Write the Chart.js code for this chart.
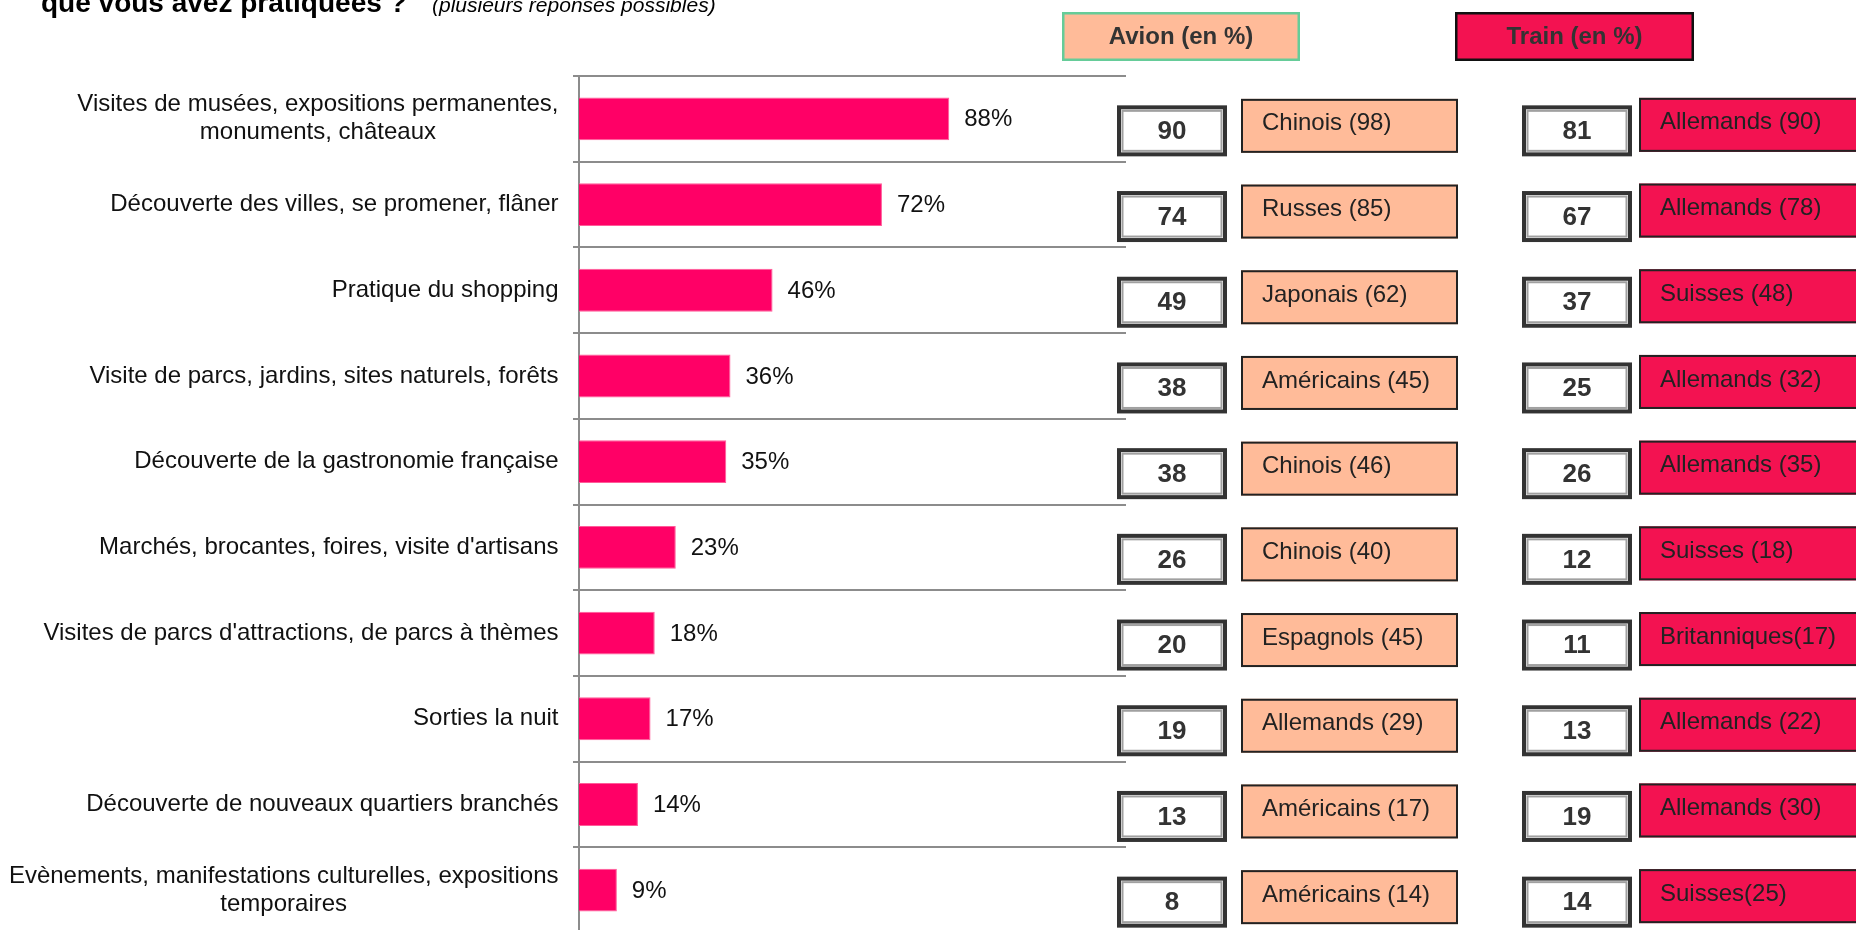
<!DOCTYPE html>
<html>
<head>
<meta charset="utf-8">
<script src="https://cdn.jsdelivr.net/npm/chart.js@4"></script>
<style>
html, body { margin: 0; padding: 0; background: #fff; overflow: hidden; width: 1856px; height: 930px; }
#c { position: absolute; left: 0; top: 0; }
</style>
</head>
<body>
<canvas id="c" width="1856" height="960"></canvas>
<script>
// ---- data ----
const titleLine = 'que vous avez pratiquées ?';
const subtitleLine = '(plusieurs réponses possibles)';
const legendAvion = 'Avion (en %)';
const legendTrain = 'Train (en %)';

const categories = [
  ['Visites de musées, expositions permanentes,', 'monuments, châteaux'],
  ['Découverte des villes, se promener, flâner'],
  ['Pratique du shopping'],
  ['Visite de parcs, jardins, sites naturels, forêts'],
  ['Découverte de la gastronomie française'],
  ["Marchés, brocantes, foires, visite d'artisans"],
  ["Visites de parcs d'attractions, de parcs à thèmes"],
  ['Sorties la nuit'],
  ['Découverte de nouveaux quartiers branchés'],
  ['Evènements, manifestations culturelles, expositions', 'temporaires']
];
const shares = [88, 72, 46, 36, 35, 23, 18, 17, 14, 9];

const avionValues = [90, 74, 49, 38, 38, 26, 20, 19, 13, 8];
const avionTop = ['Chinois (98)', 'Russes (85)', 'Japonais (62)', 'Américains (45)', 'Chinois (46)',
  'Chinois (40)', 'Espagnols (45)', 'Allemands (29)', 'Américains (17)', 'Américains (14)'];

const trainValues = [81, 67, 37, 25, 26, 12, 11, 13, 19, 14];
const trainTop = ['Allemands (90)', 'Allemands (78)', 'Suisses (48)', 'Allemands (32)', 'Allemands (35)',
  'Suisses (18)', 'Britanniques(17)', 'Allemands (22)', 'Allemands (30)', 'Suisses(25)'];

// ---- styles ----
const FONT = '"Liberation Sans", Arial, Helvetica, sans-serif';
const BAR = '#FF0066';
const PEACH = '#FFBB99';
const CRIMSON = '#F31251';
const GRID = '#8C8C8C';

function plainBox(ctx, x, y, w, h, fill, stroke, lw) {
  ctx.fillStyle = fill;
  ctx.fillRect(x, y, w, h);
  ctx.strokeStyle = stroke;
  ctx.lineWidth = lw;
  ctx.strokeRect(x + lw / 2, y + lw / 2, w - lw, h - lw);
}
function numberBox(ctx, x, cy, w, h, text) {
  const y = cy - h / 2;
  ctx.fillStyle = '#fff';
  ctx.fillRect(x, y, w, h);
  ctx.strokeStyle = '#333';
  ctx.lineWidth = 4;
  ctx.strokeRect(x + 2, y + 2, w - 4, h - 4);
  ctx.strokeStyle = '#a0a0a0';
  ctx.lineWidth = 2;
  ctx.strokeRect(x + 5.5, y + 5.5, w - 11, h - 11);
  ctx.fillStyle = '#333';
  ctx.font = `bold 26px ${FONT}`;
  ctx.textAlign = 'center';
  ctx.textBaseline = 'middle';
  ctx.fillText(text, x + w / 2, cy + 1);
}
function labelBox(ctx, x, cy, w, h, fill, text) {
  const y = cy - h / 2;
  plainBox(ctx, x, y, w, h, fill, '#222', 2);
  ctx.fillStyle = '#222';
  ctx.font = `24px ${FONT}`;
  ctx.textAlign = 'left';
  ctx.textBaseline = 'middle';
  ctx.fillText(text, x + 21, cy - 2);
}

const overlay = {
  id: 'overlay',
  afterDatasetsDraw(chart) {
    const ctx = chart.ctx;
    const meta = chart.getDatasetMeta(0);
    ctx.save();
    ctx.fillStyle = '#111';
    ctx.font = `24px ${FONT}`;
    ctx.textAlign = 'left';
    ctx.textBaseline = 'middle';
    meta.data.forEach((bar, i) => {
      ctx.fillText(shares[i] + '%', bar.x + 15, bar.y + 1);
    });
    ctx.restore();
  },
  afterDraw(chart) {
    const ctx = chart.ctx;
    const ys = chart.scales.y;
    const left = chart.chartArea.left;
    ctx.save();

    // title (partially cut at top)
    ctx.fillStyle = '#000';
    ctx.textAlign = 'left';
    ctx.textBaseline = 'alphabetic';
    ctx.font = `bold 28px ${FONT}`;
    ctx.fillText(titleLine, 41, 12);
    ctx.font = `italic 21px ${FONT}`;
    ctx.fillText(subtitleLine, 432, 12);

    // legend headers
    plainBox(ctx, 1062, 12, 238, 49, PEACH, '#66CC99', 2.5);
    plainBox(ctx, 1455, 12, 239, 49, CRIMSON, '#111', 2.5);
    ctx.fillStyle = '#333';
    ctx.font = `bold 24px ${FONT}`;
    ctx.textAlign = 'center';
    ctx.textBaseline = 'middle';
    ctx.fillText(legendAvion, 1181, 37);
    ctx.fillText(legendTrain, 1574.5, 37);

    // category labels
    ctx.font = `24px ${FONT}`;
    ctx.fillStyle = '#111';
    ctx.textBaseline = 'middle';
    ctx.textAlign = 'center';
    categories.forEach((lines, i) => {
      const cy = ys.getPixelForValue(i);
      const maxW = Math.max(...lines.map(l => ctx.measureText(l).width));
      const cx = left - 20.5 - maxW / 2;
      lines.forEach((l, k) => {
        ctx.fillText(l, cx, cy + (k - (lines.length - 1) / 2) * 28);
      });
    });

    // per-row boxes
    categories.forEach((_, i) => {
      const cy = ys.getPixelForValue(i);
      numberBox(ctx, 1117, cy + 12, 110, 51, String(avionValues[i]));
      labelBox(ctx, 1241, cy + 7, 217, 54, PEACH, avionTop[i]);
      numberBox(ctx, 1522, cy + 12, 110, 51, String(trainValues[i]));
      labelBox(ctx, 1639, cy + 6, 222, 54, CRIMSON, trainTop[i]);
    });
    ctx.restore();
  }
};

new Chart(document.getElementById('c'), {
  type: 'bar',
  data: {
    labels: categories,
    datasets: [{
      data: shares,
      backgroundColor: BAR,
      borderColor: '#FF5C99',
      borderWidth: 1,
      borderSkipped: 'left',
      barPercentage: 1,
      categoryPercentage: 0.5
    }]
  },
  options: {
    indexAxis: 'y',
    responsive: false,
    animation: false,
    devicePixelRatio: 1,
    layout: { padding: { top: 76, right: 730, bottom: 27, left: 0 } },
    plugins: { legend: { display: false }, title: { display: false }, tooltip: { enabled: false } },
    scales: {
      x: { display: false, min: 0, max: 130 },
      y: {
        display: true,
        offset: true,
        grid: { display: true, offset: true, color: GRID, lineWidth: 2, drawTicks: true, tickLength: 6 },
        border: { display: true, color: GRID, width: 2 },
        ticks: { display: false },
        afterFit(scale) { scale.width = 579; }
      }
    }
  },
  plugins: [overlay]
});
</script>
</body>
</html>
